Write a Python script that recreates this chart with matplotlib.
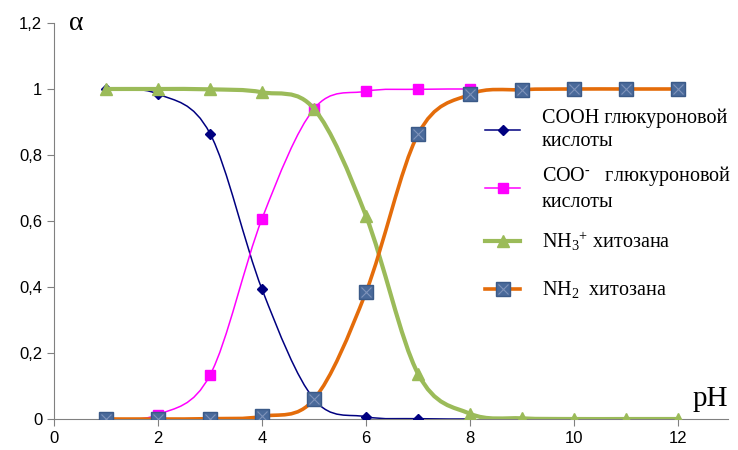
import numpy as np
import matplotlib.pyplot as plt
from matplotlib.path import Path
from matplotlib.patches import PathPatch
from matplotlib.lines import Line2D

plt.rcParams['mathtext.fontset'] = 'custom'
plt.rcParams['mathtext.rm'] = 'Liberation Serif'
plt.rcParams['mathtext.it'] = 'Liberation Serif:italic'

ph_acid = [1, 2, 3, 4, 5, 6, 7, 8]
cooh = [1.0, 0.985, 0.865, 0.393, 0.06, 0.007, 0.001, 0.0]
coo = [0.0, 0.013, 0.133, 0.607, 0.94, 0.993, 0.999, 1.0]

ph_chit = [1, 2, 3, 4, 5, 6, 7, 8, 9, 10, 11, 12]
nh3 = [1.0, 1.0, 0.999, 0.99, 0.94, 0.615, 0.137, 0.016, 0.002, 0.0, 0.0, 0.0]
nh2 = [0.0, 0.0, 0.001, 0.008, 0.06, 0.385, 0.863, 0.984, 0.998, 1.0, 1.0, 1.0]

labels = ['СООН глюкуроновой\nкислоты',
          r'СОО$^{\text{-}}$   глюкуроновой' + '\nкислоты',
          r'NH$_{\mathrm{3}}$$^{\mathrm{+}}$ хитозана',
          r'NH$_{\mathrm{2}}$  хитозана']


def smooth_path(x, y):
    # bezier through the points, control points from neighbours (excel-like smoothing)
    p = np.column_stack([x, y]).astype(float)
    ext = np.vstack([p[0], p, p[-1]])
    verts = [p[0]]
    codes = [Path.MOVETO]
    for i in range(len(p) - 1):
        p0, p1, p2, p3 = ext[i], ext[i + 1], ext[i + 2], ext[i + 3]
        c1 = p1 + (p2 - p0) / 6
        c2 = p2 - (p3 - p1) / 6
        verts += [c1, c2, p2]
        codes += [Path.CURVE4] * 3
    return Path(verts, codes)


W, H = 738, 450
fig = plt.figure(figsize=(W / 100, H / 100), dpi=100)
ax = fig.add_axes([54 / W, 1 - 419 / H, (728 - 54) / W, (419 - 23) / H])

series = [
    (ph_acid, cooh, '#000080', 1.1, 'D', 5.5, '#000080', '#000080'),
    (ph_acid, coo, '#FF00FF', 1.1, 's', 6.5, '#FF00FF', '#FF00FF'),
    (ph_chit, nh3, '#9BBB59', 3.0, '^', 9, '#9BBB59', '#9BBB59'),
    (ph_chit, nh2, '#E46C0A', 2.6, 's', 9.5, '#4A6A9A', '#3B5A88'),
]

# legend rows (pixel y of the handle) and x span of the handle line
leg_y = [130, 188, 241, 289]
hx0, hx1, tx = 485, 520, 542

for i, (x, y, lc, lw, m, ms, mfc, mec) in enumerate(series):
    ax.add_patch(PathPatch(smooth_path(x, y), fill=False, edgecolor=lc,
                           linewidth=lw, zorder=2 + i * 2))
    ax.plot(x, y, linestyle='none', marker=m, markersize=ms,
            markerfacecolor=mfc, markeredgecolor=mec, zorder=3 + i * 2)
    if i == 3:
        ax.plot(x, y, linestyle='none', marker='x', markersize=ms * 0.75,
                markeredgecolor='#7F93BA', markeredgewidth=0.8, zorder=3 + i * 2)

    yf = 1 - leg_y[i] / H
    fig.add_artist(Line2D([hx0 / W, hx1 / W], [yf, yf], color=lc, linewidth=lw,
                          transform=fig.transFigure))
    fig.add_artist(Line2D([(hx0 + hx1) / 2 / W], [yf], linestyle='none', marker=m,
                          markersize=ms, markerfacecolor=mfc, markeredgecolor=mec,
                          transform=fig.transFigure))
    if i == 3:
        fig.add_artist(Line2D([(hx0 + hx1) / 2 / W], [yf], linestyle='none', marker='x',
                              markersize=ms * 0.75, markeredgecolor='#7F93BA',
                              markeredgewidth=0.8, transform=fig.transFigure))
    fig.text(tx / W, yf, labels[i], fontsize=14.5, va='center', ha='left',
             family='Liberation Serif', linespacing=1.3)

ax.set_xlim(0, 12.96)
ax.set_ylim(0, 1.2)
ax.set_xticks(np.arange(0, 13, 2))
ax.set_yticks(np.arange(0, 1.21, 0.2))
ax.set_yticklabels([f'{v:g}'.replace('.', ',') for v in np.round(np.arange(0, 1.21, 0.2), 1)])
ax.tick_params(labelsize=12, length=5, color='#808080')
for lab in ax.get_xticklabels() + ax.get_yticklabels():
    lab.set_fontfamily('Liberation Sans')

for s in ['top', 'right']:
    ax.spines[s].set_visible(False)
for s in ['left', 'bottom']:
    ax.spines[s].set_color('#808080')
    ax.spines[s].set_linewidth(0.8)

fig.text(69 / W, 1 - 24 / H, 'α', fontsize=20, family='Liberation Serif', va='center')
fig.text(693 / W, 1 - 399 / H, 'pH', fontsize=21, family='Liberation Serif', va='center')

fig.savefig('out.png', dpi=100)
